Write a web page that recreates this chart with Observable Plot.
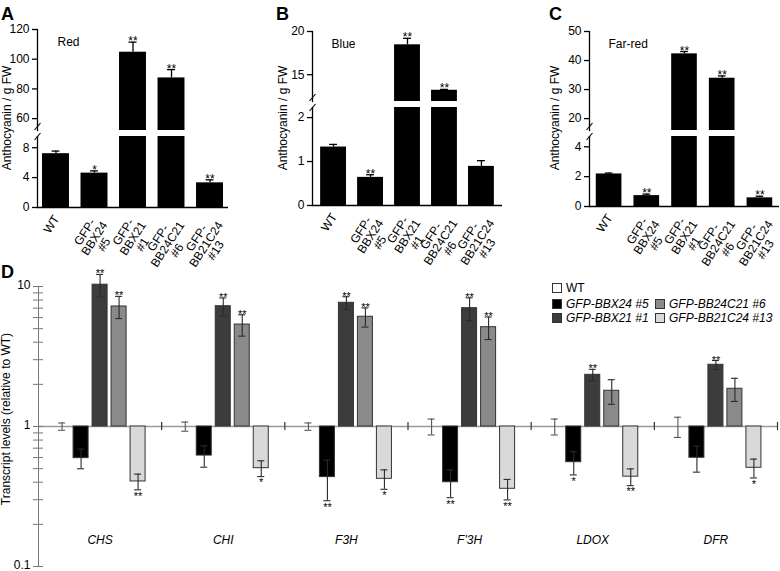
<!DOCTYPE html>
<html>
<head>
<meta charset="utf-8">
<script src="https://cdn.jsdelivr.net/npm/d3@7"></script>
<script src="https://cdn.jsdelivr.net/npm/@observablehq/plot@0.6"></script>
<style>
  body { margin: 0; background: #fff; }
  #fig { position: relative; width: 780px; height: 571px; overflow: hidden; background: #fff;
         font-family: "Liberation Sans", Arial, Helvetica, sans-serif; color: #000; }
  #fig svg { overflow: visible; }
  .letter { position: absolute; font-weight: bold; font-size: 18px; line-height: 18px; }
  .ylab { position: absolute; font-size: 12px; line-height: 14px; white-space: nowrap;
          transform: translate(-50%, -50%) rotate(-90deg); }
  .leg { position: absolute; display: flex; align-items: center; height: 14px; font-size: 12px; white-space: nowrap; }
  .leg .sw { width: 8px; height: 8px; border: 1px solid #333; margin-right: 4px; box-sizing: content-box; }
  .leg .it { font-style: italic; }
</style>
</head>
<body>
<div id="fig"></div>
<script>
// ---------------- data ----------------
const genotypes = ["WT", "BBX24", "BBX21", "BB24C21", "BB21C24"];
const genotypeLabels = ["WT", "GFP-\nBBX24\n#5", "GFP-\nBBX21\n#1", "GFP-\nBB24C21\n#6", "GFP-\nBB21C24\n#13"];
const legendLabels = ["WT", "GFP-BBX24 #5", "GFP-BBX21 #1", "GFP-BB24C21 #6", "GFP-BB21C24 #13"];
const genotypeFills = ["#ffffff", "#000000", "#3c3c3c", "#8a8a8a", "#d9d9d9"];

// Panel A (Red)
const redValues = [7.2, 4.6, 104.7, 87.4, 3.3];
const redErrors = [0.35, 0.3, 6.8, 5.6, 0.4];
const redStars = ["", "*", "**", "**", "**"];
const redTopTicks = [60, 80, 100, 120];
const redBottomTicks = [0, 4, 8];

// Panel B (Blue)
const blueValues = [1.33, 0.64, 18.46, 13.2, 0.89];
const blueErrors = [0.06, 0.06, 0.75, 0.1, 0.13];
const blueStars = ["", "**", "**", "**", ""];
const blueTopTicks = [15, 20];
const blueBottomTicks = [0, 1, 2];

// Panel C (Far-red)
const farRedValues = [2.18, 0.73, 42.3, 33.9, 0.58];
const farRedErrors = [0.06, 0.1, 0.8, 0.8, 0.11];
const farRedStars = ["", "**", "**", "**", "**"];
const farRedTopTicks = [20, 30, 40, 50];
const farRedBottomTicks = [0, 2, 4];

// Panel D (transcript levels relative to WT), rows = genes, columns = genotypes
const genes = ["CHS", "CHI", "F3H", "F'3H", "LDOX", "DFR"];
const transcriptValues = [
  [1, 0.594, 10.3, 7.2, 0.405],
  [1, 0.62, 7.23, 5.35, 0.504],
  [1, 0.435, 7.65, 6.08, 0.423],
  [1, 0.40, 7.0, 5.12, 0.359],
  [1, 0.556, 2.34, 1.8, 0.438],
  [1, 0.598, 2.76, 1.86, 0.507]
];
const transcriptErrors = [
  [0.06, 0.095, 1.9, 1.3, 0.052],
  [0.075, 0.108, 1.05, 0.93, 0.065],
  [0.06, 0.14, 0.8, 0.95, 0.067],
  [0.13, 0.09, 1.3, 0.94, 0.06],
  [0.13, 0.105, 0.22, 0.36, 0.06],
  [0.165, 0.126, 0.2, 0.35, 0.078]
];
const transcriptStars = [
  ["", "", "**", "**", "**"],
  ["", "", "**", "**", "*"],
  ["", "**", "**", "**", "*"],
  ["", "**", "**", "**", "**"],
  ["", "*", "**", "", "**"],
  ["", "", "**", "", "*"]
];
const transcriptMajorTicks = [0.1, 1, 10];
const transcriptMinorTicks = [0.1, 0.2, 0.3, 0.4, 0.5, 0.6, 0.7, 0.8, 0.9, 1, 2, 3, 4, 5, 6, 7, 8, 9, 10];

// ---------------- drawing ----------------
const FONT = '"Liberation Sans", Arial, Helvetica, sans-serif';
const fig = document.getElementById("fig");
const labelOf = new Map(genotypes.map((g, i) => [g, genotypeLabels[i]]));
const fmt = d => String(d);
// short diagonal stroke used to mark the axis break
const slash = {draw(ctx) { ctx.moveTo(-3, 3.5); ctx.lineTo(3, -3.5); }};

// text measurement for the rotated, centre-aligned category labels
const measureCtx = document.createElement("canvas").getContext("2d");
measureCtx.font = '12px "Liberation Sans", Arial, sans-serif';
const textWidth = s => measureCtx.measureText(s).width;
const LABEL_SIZE = 12, LABEL_LH = 0.95, LABEL_ROT = 57;
const cosR = Math.cos(LABEL_ROT * Math.PI / 180), sinR = Math.sin(LABEL_ROT * Math.PI / 180);

function categoryLabelMarks() {
  // each label block: right edge at the tick (just below the axis), lines centred inside the block
  return genotypes.map((g, i) => {
    const lines = genotypeLabels[i].split("\n");
    const W = Math.max(...lines.map(textWidth));
    const H = lines.length * LABEL_SIZE * LABEL_LH;
    return Plot.text([g], {
      x: d => d, frameAnchor: "bottom", text: d => labelOf.get(d),
      rotate: -LABEL_ROT, textAnchor: "middle", lineAnchor: "middle", lineHeight: LABEL_LH, fontSize: LABEL_SIZE,
      dx: -4 - (W / 2) * cosR + (H / 2) * sinR,
      dy: 6 + (W / 2) * sinR + (H / 2) * cosR
    });
  });
}

function place(node, left, top) {
  node.style.position = "absolute";
  node.style.left = left + "px";
  node.style.top = top + "px";
  fig.appendChild(node);
}
function html(cls, text, left, top) {
  const d = document.createElement("div");
  d.className = cls;
  d.textContent = text;
  d.style.left = left + "px";
  d.style.top = top + "px";
  fig.appendChild(d);
  return d;
}
const baseStyle = {fontFamily: FONT, fontSize: "12px", background: "transparent", overflow: "visible", color: "black"};

function anthocyaninPanel(cfg) {
  const rows = genotypes.map((g, i) => ({g, v: cfg.values[i], e: cfg.errors[i], s: cfg.stars[i]}));
  const marginLeft = cfg.axisX - cfg.left;
  const marginRight = cfg.left + cfg.width - cfg.frameRight;
  const x = {type: "band", domain: genotypes, paddingInner: cfg.pi, paddingOuter: cfg.po, round: false, axis: null};
  const inTop = d => d.v > cfg.topDomain[0];
  const inBottom = d => d.v <= cfg.bottomDomain[1];
  const topH = cfg.yBreakTop + 2;
  const sw = 1.3;
  const errMarks = (filter) => [
    Plot.ruleX(rows, {filter, x: "g", y1: "v", y2: d => d.v + d.e, stroke: "black", strokeWidth: sw}),
    Plot.tickY(rows, {filter, x: "g", y: d => d.v + d.e, insetLeft: cfg.capInset, insetRight: cfg.capInset, stroke: "black", strokeWidth: sw}),
    Plot.text(rows, {filter, x: "g", y: d => d.v + d.e, text: "s", lineAnchor: "bottom", dy: 3, fontSize: 12, letterSpacing: "1px"})
  ];
  const top = Plot.plot({
    width: cfg.width, height: topH,
    marginLeft, marginRight, marginTop: cfg.yTop, marginBottom: 2,
    style: baseStyle,
    x,
    y: {domain: cfg.topDomain},
    marks: [
      Plot.barY(rows, {filter: inTop, x: "g", y1: 0, y2: "v", fill: "black", clip: true}),
      ...errMarks(inTop),
      Plot.text([cfg.name], {text: d => d, frameAnchor: "top-left", dx: cfg.nameDx, dy: 8, fontSize: 12}),
      Plot.axisY({ticks: cfg.topTicks, tickSize: 5, tickPadding: 3, tickFormat: fmt, label: null, fontSize: 12, strokeWidth: sw}),
      Plot.frame({anchor: "left", strokeWidth: sw}),
      Plot.dot([0], {frameAnchor: "bottom-left", symbol: slash, r: 4, stroke: "black", strokeWidth: 1.1, dy: -4})
    ]
  });
  place(top, cfg.left, 0);
  const bottom = Plot.plot({
    width: cfg.width, height: cfg.yZero + 55 - topH,
    marginLeft, marginRight, marginTop: cfg.yBreakBottom - topH, marginBottom: 55,
    style: baseStyle,
    x,
    y: {domain: cfg.bottomDomain},
    marks: [
      Plot.barY(rows, {x: "g", y1: 0, y2: "v", fill: "black", clip: true}),
      ...errMarks(inBottom),
      Plot.ruleY([0], {strokeWidth: sw}),
      Plot.axisY({ticks: cfg.bottomTicks, tickSize: 5, tickPadding: 3, tickFormat: fmt, label: null, fontSize: 12, strokeWidth: sw}),
      ...categoryLabelMarks(),
      Plot.frame({anchor: "left", strokeWidth: sw}),
      Plot.dot([0], {frameAnchor: "top-left", symbol: slash, r: 4, stroke: "black", strokeWidth: 1.1, dy: 0})
    ]
  });
  place(bottom, cfg.left, topH);
}

anthocyaninPanel({
  left: 0, width: 236, axisX: 37, frameRight: 228, pi: 0.3, po: 0.13, capInset: 9.5,
  yTop: 29, yBreakTop: 130, yBreakBottom: 136, yZero: 207,
  topDomain: [52, 120], bottomDomain: [0, 9.5], topTicks: redTopTicks, bottomTicks: redBottomTicks,
  values: redValues, errors: redErrors, stars: redStars, name: "Red", nameDx: 20
});
anthocyaninPanel({
  left: 255, width: 255, axisX: 312, frameRight: 502, pi: 0.3, po: 0.22, capInset: 9,
  yTop: 31, yBreakTop: 101, yBreakBottom: 107, yZero: 205,
  topDomain: [11.9, 20], bottomDomain: [0, 2.23], topTicks: blueTopTicks, bottomTicks: blueBottomTicks,
  values: blueValues, errors: blueErrors, stars: blueStars, name: "Blue", nameDx: 19
});
anthocyaninPanel({
  left: 510, width: 270, axisX: 589, frameRight: 779, pi: 0.32, po: 0.18, capInset: 9,
  yTop: 31, yBreakTop: 130, yBreakBottom: 136, yZero: 206,
  topDomain: [15.9, 50], bottomDomain: [0, 4.69], topTicks: farRedTopTicks, bottomTicks: farRedBottomTicks,
  values: farRedValues, errors: farRedErrors, stars: farRedStars, name: "Far-red", nameDx: 19
});

// Panel D
(function () {
  const rows = genes.flatMap((gene, i) => genotypes.map((g, j) => ({
    gene, g, v: transcriptValues[i][j], e: transcriptErrors[i][j], s: transcriptStars[i][j]
  })));
  const width = 780, marginLeft = 38, marginRight = 3;
  const pi = 0.21, po = 0.846;
  const facetW = (width - marginLeft - marginRight) / genes.length;
  const step = facetW / (genotypes.length - pi + 2 * po);
  const sepOffset = po * step + step * (1 - pi) / 2;
  const up = d => d.v >= 1;
  const down = d => d.v < 1;
  const isWT = d => d.g === "WT";
  const notWT = d => d.g !== "WT";
  const errBar = (filter, stroke) => [
    Plot.ruleX(rows, {filter, fx: "gene", x: "g", y1: d => d.v - d.e, y2: d => d.v + d.e, stroke, strokeWidth: 1.1}),
    Plot.tickY(rows, {filter, fx: "gene", x: "g", y: d => d.v + d.e, insetLeft: 4, insetRight: 4, stroke, strokeWidth: 1.1}),
    Plot.tickY(rows, {filter, fx: "gene", x: "g", y: d => d.v - d.e, insetLeft: 4, insetRight: 4, stroke, strokeWidth: 1.1})
  ];
  const plot = Plot.plot({
    width, height: 309, marginLeft, marginRight, marginTop: 24, marginBottom: 5,
    style: baseStyle,
    fx: {domain: genes, padding: 0, round: false, axis: null, label: null},
    x: {type: "band", domain: genotypes, paddingInner: pi, paddingOuter: po, round: false, axis: null},
    y: {type: "log", domain: [0.1, 10]},
    color: {domain: genotypes, range: genotypeFills},
    marks: [
      Plot.ruleY([1], {stroke: "#9a9a9a", strokeWidth: 1.6}),
      Plot.ruleX(genes, {fx: d => d, x: () => "BB21C24", dx: sepOffset, y1: 0.935, y2: 1.07, stroke: "#333", strokeWidth: 1.2}),
      Plot.barY(rows, {filter: notWT, fx: "gene", x: "g", y1: 1, y2: "v", fill: "g", stroke: "#333", strokeWidth: 1}),
      ...errBar(isWT, "#555"),
      ...errBar(notWT, "#2a2a2a"),
      Plot.text(rows, {filter: up, fx: "gene", x: "g", y: d => d.v + d.e, text: "s", lineAnchor: "bottom", dy: 3, fontSize: 11, letterSpacing: "1px"}),
      Plot.text(rows, {filter: down, fx: "gene", x: "g", y: d => d.v - d.e, text: "s", lineAnchor: "top", dy: 2, fontSize: 11, letterSpacing: "1px"}),
      Plot.text(genes, {fx: d => d, text: d => d, frameAnchor: "bottom", dy: -23, fontStyle: "italic", fontSize: 12}),
      Plot.axisY({ticks: transcriptMinorTicks, tickSize: 10, dx: 5, tickFormat: () => "", stroke: "#777", label: null}),
      Plot.axisY({ticks: transcriptMajorTicks, tickSize: 0, tickPadding: 8, tickFormat: fmt, label: null, fontSize: 12, dy: -1}),
      Plot.frame({anchor: "left", stroke: "#777", facetAnchor: "left"})
    ]
  });
  place(plot, 0, 262);
})();

// Panel letters
html("letter", "A", 1, 5);
html("letter", "B", 276, 5);
html("letter", "C", 549, 5);
html("letter", "D", 1, 263);

// Axis titles
html("ylab", "Anthocyanin / g FW", 7, 118);
html("ylab", "Anthocyanin / g FW", 283, 118);
html("ylab", "Anthocyanin / g FW", 555, 118);
html("ylab", "Transcript levels (relative to WT)", 6, 419);

// Legend for D
const legendPos = [[552, 281], [552, 297], [552, 311], [655, 297], [655, 311]];
genotypes.forEach((g, i) => {
  const d = document.createElement("div");
  d.className = "leg";
  d.style.left = legendPos[i][0] + "px";
  d.style.top = legendPos[i][1] + "px";
  const sw = document.createElement("span");
  sw.className = "sw";
  sw.style.background = genotypeFills[i];
  const t = document.createElement("span");
  t.textContent = legendLabels[i];
  if (g !== "WT") t.className = "it";
  d.appendChild(sw);
  d.appendChild(t);
  fig.appendChild(d);
});
</script>
</body>
</html>
